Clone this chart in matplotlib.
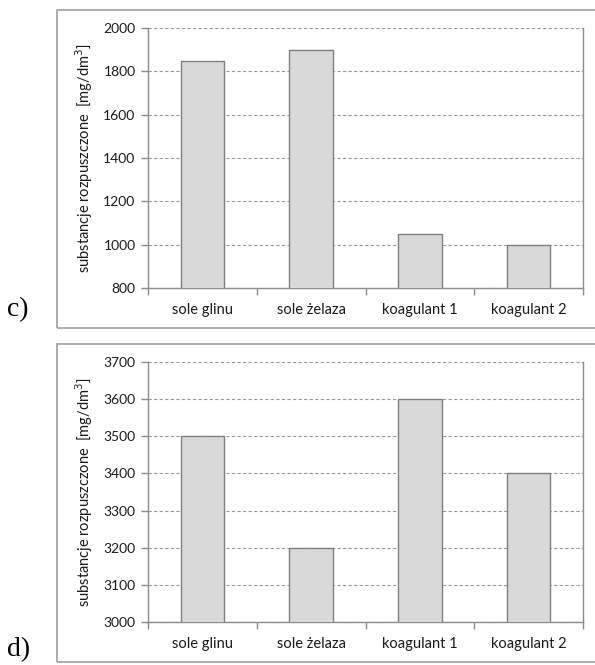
import matplotlib
matplotlib.use("Agg")
import matplotlib.pyplot as plt
from matplotlib.patches import Rectangle

categories = ["sole glinu", "sole żelaza", "koagulant 1", "koagulant 2"]
values_c = [1850, 1900, 1050, 1000]
values_d = [3500, 3200, 3600, 3400]
yticks_c = [800, 1000, 1200, 1400, 1600, 1800, 2000]
yticks_d = [3000, 3100, 3200, 3300, 3400, 3500, 3600, 3700]
ylabel = "substancje rozpuszczone  [mg/dm$^3$]"
panel_labels = ["c)", "d)"]

W, H = 595, 665
fig = plt.figure(figsize=(W / 100, H / 100), dpi=100)
fig.patch.set_facecolor("white")

FONT = "Lato"
GRAY = "#8c8c8c"


def px_rect(x0, y0, x1, y1):
    return [x0 / W, 1 - y1 / H, (x1 - x0) / W, (y1 - y0) / H]


def draw_panel(values, yticks, ax_box, frame_box, label, label_xy):
    # outer chart frame
    fx0, fy0, fx1, fy1 = frame_box
    fig.patches.append(Rectangle((fx0 / W, 1 - fy1 / H), (fx1 - fx0) / W, (fy1 - fy0) / H,
                                 transform=fig.transFigure, fill=False,
                                 edgecolor="#a0a0a0", linewidth=1.2, zorder=0))
    ax = fig.add_axes(px_rect(*ax_box))
    ax.set_facecolor("none")
    x = range(len(categories))
    ax.bar(x, values, width=0.4, color="#d9d9d9", edgecolor="#7f7f7f",
           linewidth=1.0, zorder=3)
    ax.set_xlim(-0.5, len(categories) - 0.5)
    ax.set_ylim(yticks[0], yticks[-1])
    ax.set_yticks(yticks)
    ax.set_xticks(list(x))
    ax.set_xticklabels(categories, fontsize=10.5, family=FONT, color="#1a1a1a")
    for t in ax.get_yticklabels():
        t.set_fontsize(10)
        t.set_family(FONT)
        t.set_color("#1a1a1a")
    ax.tick_params(axis="x", length=0, pad=11)
    ax.set_xticks([i - 0.5 for i in range(len(categories) + 1)], minor=True)
    ax.tick_params(axis="x", which="minor", length=5, color=GRAY, width=1)
    ax.tick_params(axis="y", length=5, color=GRAY, width=1, pad=4)
    ax.yaxis.grid(True, linestyle=(0, (3, 2)), color="#9a9a9a", linewidth=0.8, zorder=1)
    ax.set_axisbelow(True)
    for side in ["left", "bottom", "right"]:
        ax.spines[side].set_color(GRAY)
        ax.spines[side].set_linewidth(1.0)
    ax.spines["top"].set_visible(False)
    ax.set_ylabel(ylabel, fontsize=10.5, family=FONT, color="#1a1a1a", labelpad=6)
    fig.text(label_xy[0] / W, 1 - label_xy[1] / H, label, fontsize=20,
             family="Liberation Serif", ha="left", va="baseline")
    return ax


draw_panel(values_c, yticks_c, (148, 28, 583, 288), (57, 10, 600, 328),
           panel_labels[0], (7, 316))
draw_panel(values_d, yticks_d, (148, 362, 583, 622), (57, 344, 600, 662),
           panel_labels[1], (7, 656))

fig.savefig("out.png", dpi=100, facecolor="white")
